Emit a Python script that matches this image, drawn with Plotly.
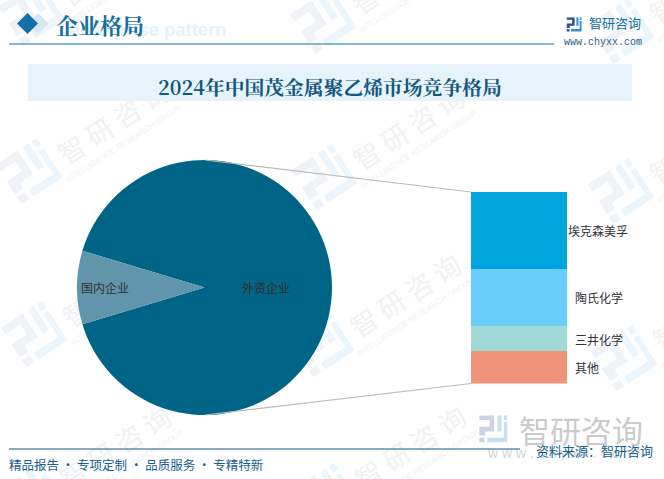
import math
import plotly.graph_objects as go

# pie values (share, %)
pie_labels = ['外资企业', '国内企业']
pie_values = [90.7, 9.3]
pie_colors = ['#006487', '#6095AB']

# stacked column, top to bottom
bar_labels = ['埃克森美孚', '陶氏化学', '三井化学', '其他']
bar_values = [40.2, 29.8, 13.0, 17.0]
bar_colors = ['#00A5DF', '#69CDF9', '#A2D9D6', '#EF937B']

W, H = 664, 479


def px(x):
    return x / W


def py(y):
    return 1 - y / H


def rot_path(points, cx, cy, angle=-33):
    a = math.radians(angle)
    out = []
    for i, (x, y) in enumerate(points):
        xr = cx + x * math.cos(a) - y * math.sin(a)
        yr = cy + x * math.sin(a) + y * math.cos(a)
        out.append(('M' if i == 0 else 'L') + f'{px(xr):.4f},{py(yr):.4f}')
    return ' '.join(out) + ' Z'


shapes = []


def logo(cx, cy, scale=1.0, dark='#EFF2F6', light='#ECF5FB', angle=-33):
    # blocky logo, left half dark and right half light
    left = [[(-24, -22), (2, -22), (2, 6), (-14, 6), (-14, 13), (-24, 13), (-24, -2), (-6, -2), (-6, -14), (-24, -14)],
            [(-24, 17), (-15, 17), (-15, 25), (-24, 25)]]
    right = [[(8, -22), (15, -22), (15, 6), (8, 6)],
             [(19, -22), (25, -22), (25, -14), (19, -14)],
             [(19, -10), (25, -10), (25, 25), (-10, 25), (-10, 17), (19, 17)]]
    for group, col in ((left, dark), (right, light)):
        for poly in group:
            pts = [(x * scale, y * scale) for x, y in poly]
            shapes.append(dict(type='path', xref='paper', yref='paper', path=rot_path(pts, cx, cy, angle),
                               fillcolor=col, line_width=0, layer='below'))


annotations = []


def text_shape(txt, cx, cy, size, color, angle=-33, family='Noto Sans CJK SC'):
    # shape labels stay under the traces, annotations would not
    shapes.append(dict(type='rect', xref='paper', yref='paper',
                       x0=px(cx - 1), x1=px(cx + 1), y0=py(cy + 1), y1=py(cy - 1),
                       line_width=0, fillcolor='rgba(0,0,0,0)', layer='below',
                       label=dict(text=txt, textangle=angle, textposition='middle center',
                                  font=dict(size=size, color=color, family=family))))


# watermark positions
for lx, ly in [(30, 12), (322, 20), (620, 30),
               (28, 170), (323, 176), (620, 190),
               (33, 333), (320, 343), (623, 357),
               (30, 495), (325, 495)]:
    logo(lx, ly)
    ox, oy = lx + 87, ly - 45
    text_shape('智 研 咨 询', ox, oy, 27, '#F1F2F3')
    text_shape('INTELLIGENCE RESEARCH GROUP', ox + 8, oy + 18, 8, '#F1F2F3', family='Liberation Sans')

# header
text_shape('<b>enterprise pattern</b>', 148, 28, 18.5, '#E6F2FA', angle=0, family='Liberation Sans')
shapes.append(dict(type='path', xref='paper', yref='paper', layer='above', line_width=0, fillcolor='#D5E7F2',
                   path=rot_path([(27.5, 23.5), (38, 13), (48.5, 23.5), (38, 34)], 0, 0, 0)))
shapes.append(dict(type='path', xref='paper', yref='paper', layer='above', line_width=0, fillcolor='#1570A8',
                   path=rot_path([(17, 23.5), (27.5, 13), (38, 23.5), (27.5, 34)], 0, 0, 0)))
shapes.append(dict(type='line', xref='paper', yref='paper', x0=px(9), x1=px(554), y0=py(44), y1=py(44),
                   line=dict(color='#1570A8', width=1.2), layer='above'))
shapes.append(dict(type='rect', xref='paper', yref='paper', x0=px(28), x1=px(632), y0=py(101), y1=py(64),
                   fillcolor='#E6F3FB', line_width=0, layer='below'))
# footer rule
shapes.append(dict(type='line', xref='paper', yref='paper', x0=px(9), x1=px(520), y0=py(449), y1=py(449),
                   line=dict(color='#0F5C86', width=1.2), layer='above'))
# connector lines pie to column
shapes.append(dict(type='line', xref='paper', yref='paper', x0=px(205), x1=px(471), y0=py(160), y1=py(192),
                   line=dict(color='#BBBBBB', width=1.2), layer='above'))
shapes.append(dict(type='line', xref='paper', yref='paper', x0=px(205), x1=px(471), y0=py(415), y1=py(383.5),
                   line=dict(color='#BBBBBB', width=1.2), layer='above'))
# header logo and source logo
logo(574, 24, 0.3, dark='#2A4C94', light='#2E8FD3', angle=0)
logo(493, 428, 0.57, dark='#CBD3E6', light='#C5E0F3', angle=0)

fig = go.Figure()
# small slice centred on the left side
fig.add_trace(go.Pie(labels=pie_labels, values=pie_values, marker=dict(colors=pie_colors, line_width=0),
                     sort=False, direction='clockwise', rotation=-73.26,
                     textinfo='none', showlegend=False, hoverinfo='label+percent',
                     domain=dict(x=[px(77), px(332)], y=[py(415), py(160)])))

for name, val, col in zip(bar_labels, bar_values, bar_colors):
    fig.add_trace(go.Bar(x=[0], y=[val], name=name, marker=dict(color=col, line_width=0), width=1,
                         showlegend=False, xaxis='x', yaxis='y'))


def note(txt, x, y, size=12, color='#333333', family='Noto Sans CJK SC'):
    annotations.append(dict(text=txt, x=px(x), y=py(y), xref='paper', yref='paper', showarrow=False,
                            xanchor='center', yanchor='middle', font=dict(size=size, color=color, family=family)))


note(pie_labels[0], 266, 287, color='#3A2A22')
note(pie_labels[1], 105, 287)
note(bar_labels[0], 598, 231)
note(bar_labels[1], 599, 297)
note(bar_labels[2], 599, 339)
note(bar_labels[3], 587, 367)

note('<b>企业格局</b>', 100, 24, size=22, color='#15709F', family='Noto Serif CJK SC')
note('<b>2024年中国茂金属聚乙烯市场竞争格局</b>', 330, 86, size=19.8, color='#14587F', family='Noto Serif CJK SC')
note('智研咨询', 614.5, 23, size=13, color='#15709F')
note('www.chyxx.com', 603, 43, size=10, color='#2F5F86', family='Liberation Mono')
note('精品报告 · 专项定制 · 品质服务 · 专精特新', 136, 464, size=12.5, color='#15608F')
note('智研咨询', 581, 429, size=31, color='#C9CBCD')
note('w w w . c h y x x . c o m', 561, 453, size=14, color='#D3D5D7', family='Liberation Sans')
note('资料来源：智研咨询', 594, 450, size=13, color='#15608F')

fig.update_layout(
    width=W, height=H, margin=dict(l=0, r=0, t=0, b=0), autosize=False,
    barmode='stack', paper_bgcolor='white', plot_bgcolor='rgba(0,0,0,0)',
    xaxis=dict(domain=[px(471), px(567)], range=[-0.5, 0.5], visible=False, fixedrange=True),
    yaxis=dict(domain=[py(383.5), py(192)], range=[100, 0], visible=False, fixedrange=True),
    shapes=shapes, annotations=annotations,
)
# the page's default body margin would shift the whole figure
fig.write_html("out.html", config={'displayModeBar': False},
               post_script="document.body.style.margin='0';document.body.style.overflow='hidden';")
